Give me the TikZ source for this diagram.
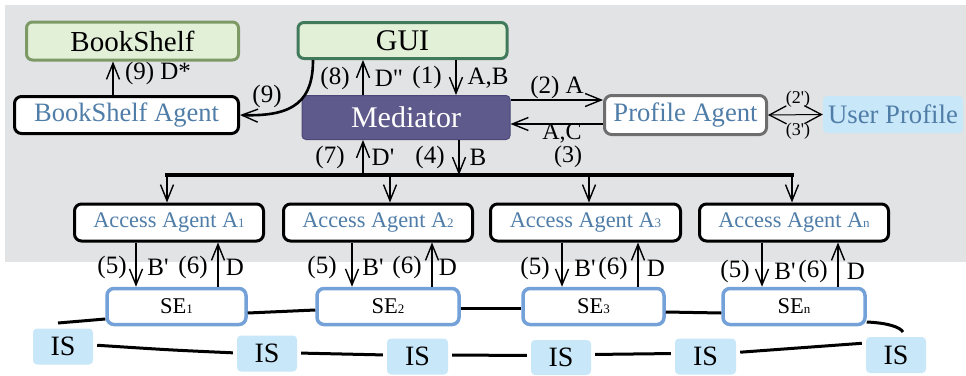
\documentclass[tikz,border=0pt]{standalone}
\usepackage{fontspec}
\setmainfont{Liberation Serif}[Ligatures=TeXOff]
\usetikzlibrary{arrows.meta,calc}
\definecolor{bggray}{HTML}{E2E3E5}
\definecolor{lgreen}{HTML}{E3F0D8}
\definecolor{bsborder}{HTML}{7D9A66}
\definecolor{guiborder}{HTML}{417A5B}
\definecolor{medfill}{HTML}{5E5A8C}
\definecolor{medborder}{HTML}{4B4777}
\definecolor{bluetext}{HTML}{4F7DA8}
\definecolor{paborder}{HTML}{6E6E6E}
\definecolor{lblue}{HTML}{C8E7F8}
\definecolor{seborder}{HTML}{74A2D8}
\newcommand{\fs}[1]{\fontsize{#1}{#1}\selectfont}
\newcommand{\subdig}[1]{{\fs{13}#1}}
\begin{document}
\begin{tikzpicture}[x=1pt,y=-1pt,
  box/.style={rectangle, rounded corners=7pt, inner sep=0pt, line width=3pt},
  blk/.style={box, draw=black, fill=white, text=bluetext},
  grn/.style={box, rounded corners=6pt, fill=lgreen, text=black},
  agent/.style={blk, minimum width=189pt, minimum height=37pt, font=\fs{22.3}},
  sebox/.style={box, draw=seborder, line width=3.5pt, fill=white, minimum height=36pt, font=\fs{22.5}},
  isbox/.style={rectangle, rounded corners=4pt, fill=lblue, inner sep=0pt, minimum width=60pt, minimum height=36pt, font=\fs{28}},
  lbl/.style={inner sep=0pt, font=\fs{25}},
  slbl/.style={inner sep=0pt, font=\fs{18}},
  arr/.style={line width=2.6pt, -{Straight Barb[length=16pt,width=13pt,line width'=1.4pt]}},
  ring/.style={line width=3pt},
]
\useasboundingbox (0,0) rectangle (966,375);
\fill[bggray] (5,5) rectangle (966,262);

% top nodes
\node[grn, draw=bsborder, minimum width=212pt, minimum height=38pt, font=\fs{29}] (bs) at (132.5,41) {BookShelf};
\node[blk, minimum width=224pt, minimum height=37pt, font=\fs{26.5}] (bsa) at (126.5,115) {BookShelf Agent};
\node[grn, draw=guiborder, minimum width=209pt, minimum height=36pt, font=\fs{30}] (gui) at (402.5,40.5) {GUI};
\node[rectangle, rounded corners=4pt, fill=medfill, draw=medborder, line width=1pt, text=white, inner sep=0pt, minimum width=208pt, minimum height=44pt, font=\fs{30}] (med) at (406,117.5) {Mediator};
\node[box, draw=paborder, fill=white, text=bluetext, minimum width=162pt, minimum height=39pt, font=\fs{26.6}] (pa) at (685.5,115) {Profile Agent};
\node[rectangle, rounded corners=4pt, fill=lblue, text=bluetext, inner sep=0pt, minimum width=140pt, minimum height=37pt, font=\fs{26.7}] (up) at (893,114.5) {User Profile};

% agents
\node[agent] (a1) at (169,222.5) {Access Agent A\subdig{1}};
\node[agent] (a2) at (378,222.5) {Access Agent A\subdig{2}};
\node[agent, minimum width=190pt] (a3) at (585.5,222.5) {Access Agent A\subdig{3}};
\node[agent] (an) at (794,222.5) {Access Agent A\subdig{n}};

% search engines
\node[sebox, minimum width=139pt] (se1) at (176.5,306.5) {SE\subdig{1}};
\node[sebox, minimum width=142pt] (se2) at (388,306.5) {SE\subdig{2}};
\node[sebox, minimum width=141pt] (se3) at (593.5,306.5) {SE\subdig{3}};
\node[sebox, minimum width=142pt] (sen) at (794,306.5) {SE\subdig{n}};

% information sources
\node[isbox] (is1) at (63,346.5) {IS};
\node[isbox] (is2) at (267,353.5) {IS};
\node[isbox, minimum width=61pt] (is3) at (417.5,356.5) {IS};
\node[isbox, minimum height=35pt] (is4) at (561,357.5) {IS};
\node[isbox, minimum width=61pt] (is5) at (705.5,356.5) {IS};
\node[isbox] (is6) at (896,355) {IS};

% top connectors
\draw[arr] (bsa.north -| 113,0) -- (bs.south -| 113,0);
\draw[arr] (gui.south -| 313,0) .. controls (313,100) and (295,117) .. (bsa.east);
\draw[arr] (med.north -| 363,0) -- (gui.south -| 363,0);
\draw[arr] (gui.south -| 456,0) -- (med.north -| 456,0);
\draw[arr] (med.east |- 0,100) -- (pa.west |- 0,100);
\draw[arr] (pa.west |- 0,124) -- (med.east |- 0,124);
\draw[line width=1pt, {Straight Barb[length=17pt,width=18pt,line width'=1.3pt]}-{Straight Barb[length=17pt,width=18pt,line width'=1.3pt]}] (pa.east) -- (up.west);

% bus
\coordinate (busL) at (167,175);
\coordinate (busR) at (792,175);
\draw[line width=4pt, line cap=rect] (busL) -- (busR);
\draw[arr] (busL) -- (a1.north -| busL);
\draw[arr] (390,175) -- (a2.north -| 390,0);
\draw[arr] (589,175) -- (a3.north -| 589,0);
\draw[arr] (busR) -- (an.north -| busR);
\draw[arr] (363,175) -- (med.south -| 363,0);
\draw[arr] (med.south -| 459,0) -- (459,175);

% agent <-> SE
\draw[arr] (a1.south -| 136,0) -- (se1.north -| 136,0);
\draw[arr] (se1.north -| 218,0) -- (a1.south -| 218,0);
\draw[arr] (a2.south -| 352,0) -- (se2.north -| 352,0);
\draw[arr] (se2.north -| 432,0) -- (a2.south -| 432,0);
\draw[arr] (a3.south -| 562,0) -- (se3.north -| 562,0);
\draw[arr] (se3.north -| 638,0) -- (a3.south -| 638,0);
\draw[arr] (an.south -| 762,0) -- (sen.north -| 762,0);
\draw[arr] (sen.north -| 838,0) -- (an.south -| 838,0);

% ring
\coordinate (ringL) at (58,323);
\coordinate (ringR) at (903,332);
\draw[ring] (ringL) -- ([yshift=-12.5pt]se1.west);
\draw[ring] ([yshift=-6.5pt]se1.east) -- ([yshift=-3.5pt]se2.west);
\draw[ring] ([yshift=-1.5pt]se2.east) -- ([yshift=-1.5pt]se3.west);
\draw[ring] ([yshift=-5.5pt]se3.east) -- ([yshift=-6.5pt]sen.west);
\draw[ring] ([yshift=-15.5pt]sen.east) .. controls (888,323) and (900,327) .. (ringR);
\draw[ring, shorten <=4pt, shorten >=4pt] ([yshift=12pt]is6.west) -- ([yshift=4pt]is5.east);
\draw[ring, shorten <=4pt, shorten >=4pt] ([yshift=3pt]is5.west) -- ([yshift=3pt]is4.east);
\draw[ring, shorten <=4pt, shorten >=4pt] ([yshift=2pt]is4.west) -- ([yshift=1.5pt]is3.east);
\draw[ring, shorten <=4pt, shorten >=4pt] ([yshift=1.5pt]is3.west) -- ([yshift=0.5pt]is2.east);
\draw[ring, shorten <=4pt, shorten >=4pt] ([yshift=0.5pt]is2.west) .. controls (170,350) .. ([yshift=1.5pt]is1.east);

% labels
\node[lbl] (l9a) at (158,73) {(9) D*};
\node[lbl] (l9b) at (267,96) {(9)};
\node[lbl] (l8) at (335,78) {(8)};
\node[lbl] (lD2) at (389,78) {D"};
\node[lbl] (l1) at (427,77) {(1)};
\node[lbl] (lAB) at (488,78) {A,B};
\node[lbl] (l2) at (557,87) {(2) A};
\node[lbl, font=\fs{24}] (lAC) at (562,133) {A,C};
\node[lbl, font=\fs{24}] (l3) at (568,157) {(3)};
\node[lbl] (l7) at (330,157) {(7)};
\node[lbl] (lD1) at (383,157) {D'};
\node[lbl] (l4) at (430,157) {(4)};
\node[lbl] (lB) at (478,157) {B};
\node[slbl] (l2p) at (798,99) {(2')};
\node[slbl] (l3p) at (798,131) {(3')};

\foreach \n/\a/\b/\c/\d/\y in {x1/112/158/193/235/267, x2/322/373/407/448/267, x3/535/585/613/656/268, x4/735/785/813/856/271}{
  \node[lbl] (\n5) at (\a,\y) {(5)};
  \node[lbl] (\n B) at (\b,\y) {B'};
  \node[lbl] (\n6) at (\c,\y) {(6)};
  \node[lbl] (\n D) at (\d,\y) {D};
}
\end{tikzpicture}
\end{document}
